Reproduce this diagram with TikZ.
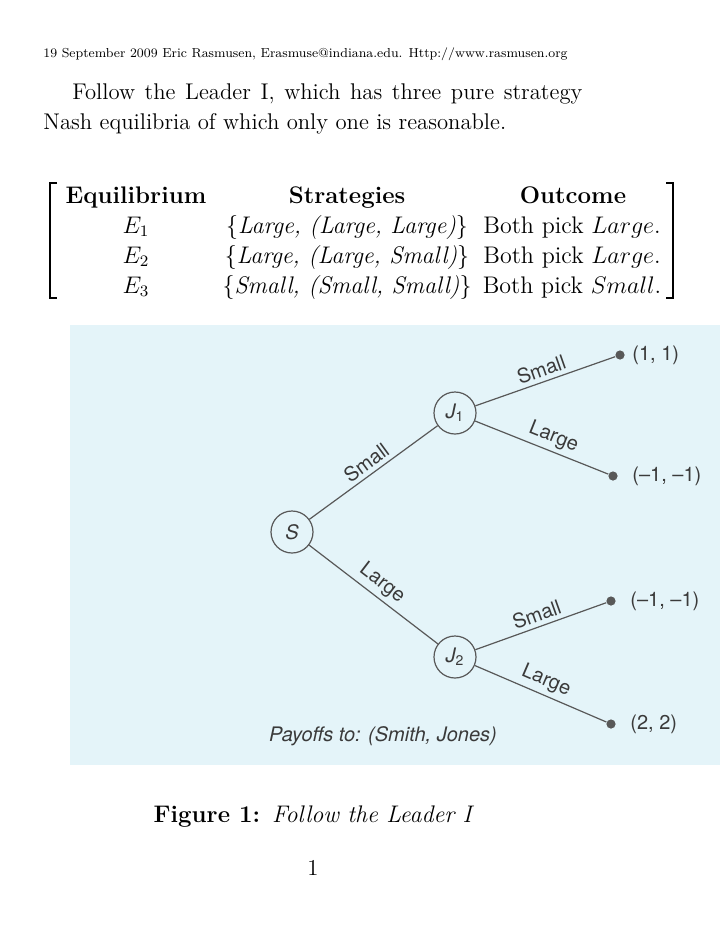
\documentclass[tikz,border=0pt]{standalone}
\usepackage{fontspec}
\setsansfont{TeX Gyre Heros}
\newfontfamily\hdrfont{lmroman8-regular.otf}
\usetikzlibrary{positioning}
\definecolor{Scan}  {HTML}{E4F4F9}
\definecolor{Ink}   {HTML}{3A3A3A}
\definecolor{Edge}  {HTML}{585858}
\tikzset{
  body/.style={
    font=\fontsize{11.35}{15}\selectfont,
    inner sep=0pt, anchor=base,
  },
  tbl/.style={body, font=\fontsize{12}{15}\selectfont},
  tbh/.style={body, font=\fontsize{12}{15}\selectfont\bfseries},
  hdr/.style={
    font=\hdrfont\fontsize{6.5}{8}\selectfont,
    inner sep=0pt, anchor=base west,
  },
  brk/.style={line width=0.9pt},
  % tree parts
  dec/.style={
    circle, draw=Edge, line width=0.6pt,
    minimum size=21pt, inner sep=0pt,
    font=\fontsize{10}{12}\selectfont\sffamily, text=Ink,
  },
  leaf/.style={
    circle, fill=Edge, inner sep=0pt, minimum size=4.6pt,
  },
  pay/.style={
    font=\fontsize{10}{12}\selectfont\sffamily, text=Ink,
    inner sep=0pt,
  },
  br/.style={draw=Edge, line width=0.6pt},
  elab/.style={
    font=\fontsize{10}{12}\selectfont\sffamily, text=Ink,
    sloped, above, inner sep=2pt,
  },
}

\begin{document}
\begin{tikzpicture}[x=0.5pt,y=-0.5pt]
  \useasboundingbox (0,0) rectangle (720,932);

  % page text
  \node[hdr] (head) at (43,57)
    {19 September 2009 Eric Rasmusen, Erasmuse@indiana.edu. Http://www.rasmusen.org};
  \node[body,anchor=base west] (par1) at (72,99)
    {\makebox[255pt][s]{Follow the Leader I, which has three pure strategy}};
  \node[body,anchor=base west] (par2) at (43,129)
    {Nash equilibria of which only one is reasonable.};

  % equilibrium table
  \node[tbh] (hEq) at (136,203) {Equilibrium};
  \node[tbh] (hSt) at (347,203) {Strategies};
  \node[tbh] (hOu) at (573,203) {Outcome};
  \node[tbl] (e1) at (136,233) {$E_1$};
  \node[tbl] (e2) at (136,263) {$E_2$};
  \node[tbl] (e3) at (136,293) {$E_3$};
  \node[tbl] (s1) at (347,233) {$\{$\textit{Large, (Large, Large)}$\}$};
  \node[tbl] (s2) at (347,263) {$\{$\textit{Large, (Large, Small)}$\}$};
  \node[tbl] (s3) at (347,293) {$\{$\textit{Small, (Small, Small)}$\}$};
  \node[tbl] (o1) at (572,233) {Both pick $Large$.};
  \node[tbl] (o2) at (572,263) {Both pick $Large$.};
  \node[tbl] (o3) at (572,293) {Both pick $Small$.};
  \draw[brk] (57,183) -- (50,183) -- (50,298) -- (57,298);
  \draw[brk] (666,183) -- (673,183) -- (673,298) -- (666,298);

  % scanned game tree
  \fill[Scan] (70,325) rectangle (720,765);

  \node[dec] (s)  at (292,532) {\itshape S};
  \node[dec] (j1) at (455,413) {\itshape J\textsubscript{\upshape 1}};
  \node[dec] (j2) at (455,657) {\itshape J\textsubscript{\upshape 2}};

  \node[leaf] (t11) at (620,355) {};
  \node[leaf] (t12) at (613,476) {};
  \node[leaf] (t21) at (611,601) {};
  \node[leaf] (t22) at (611,724) {};

  \node[pay,right=3.5pt of t11] (p11) {(1, 1)};
  \node[pay,right=7pt of t12]   (p12) {(\textendash1, \textendash1)};
  \node[pay,right=7pt of t21]   (p21) {(\textendash1, \textendash1)};
  \node[pay,right=7pt of t22]   (p22) {(2, 2)};

  \draw[br] (s)  -- node[elab] {Small} (j1);
  \draw[br] (s)  -- node[elab] {Large} (j2);
  \draw[br] (j1) -- node[elab] {Small} (t11);
  \draw[br] (j1) -- node[elab,pos=0.55] {Large} (t12);
  \draw[br] (j2) -- node[elab] {Small} (t21);
  \draw[br] (j2) -- node[elab] {Large} (t22);

  \node[pay,font=\fontsize{10}{12}\selectfont\sffamily\itshape] (note) at (383,736)
    {Payoffs to: (Smith, Jones)};

  % caption and folio
  \node[body,font=\fontsize{12}{15}\selectfont] (cap) at (314,822)
    {\textbf{Figure 1:}\enspace\textit{Follow the Leader I}};
  \node[body] (folio) at (313,875) {1};
\end{tikzpicture}
\end{document}
